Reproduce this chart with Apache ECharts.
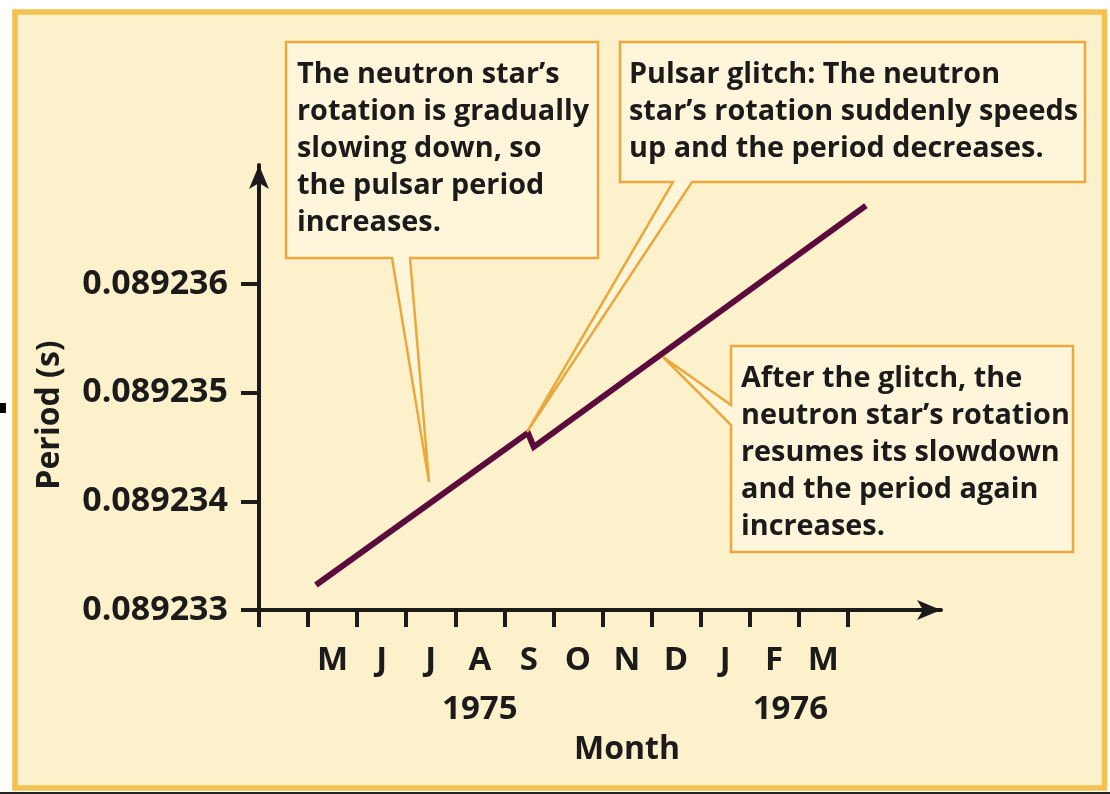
<!DOCTYPE html>
<html>
<head>
<meta charset="utf-8">
<title>Pulsar glitch</title>
<script src="https://cdn.jsdelivr.net/npm/echarts@6/dist/echarts.min.js"></script>
<style>
  html, body { margin: 0; padding: 0; background: #ffffff; }
  #chart { width: 1110px; height: 794px; }
</style>
</head>
<body>
<div id="chart"></div>
<script>
  // months counted from the start of April 1975 (tick 0)
  const monthTicks = [0, 1, 2, 3, 4, 5, 6, 7, 8, 9, 10, 11, 12]
  const monthLabels = ['M', 'J', 'J', 'A', 'S', 'O', 'N', 'D', 'J', 'F', 'M']
  const monthLabelPos = [1.5, 2.5, 3.5, 4.5, 5.5, 6.5, 7.5, 8.5, 9.5, 10.5, 11.5]
  const yearLabels = ['1975', '1976']
  const yearLabelPos = [4.5, 10.83]
  const periodTicks = [0.089233, 0.089234, 0.089235, 0.089236]

  // period of the pulsar
  const monthIndex = [1.16, 5.48, 5.60, 12.37]
  const period = [0.08923323, 0.08923463, 0.0892345, 0.08923672]

  const FONT = '"Open Sans"'
  const INK = '#1b1b1b'
  const BOX_LINE = '#e9a93c'
  const BOX_FILL = '#fef5da'

  const chart = echarts.init(document.getElementById('chart'))

  function callout(points, text, tx, ty) {
    return [
      {
        type: 'polygon',
        z: 10,
        shape: { points: points },
        style: { fill: BOX_FILL, stroke: BOX_LINE, lineWidth: 2.5, lineJoin: 'miter' }
      },
      {
        type: 'text',
        z: 11,
        x: tx,
        y: ty,
        style: {
          text: text,
          fill: INK,
          font: 'bold 28.8px ' + FONT,
          lineHeight: 37,
          textVerticalAlign: 'top'
        }
      }
    ]
  }

  const xMin = 0, xMax = 13.9
  const yMin = 0.089233, yMax = 0.089237094

  chart.setOption({
    backgroundColor: '#ffffff',
    animation: false,
    grid: {
      left: 259,
      right: 1110 - 941,
      top: 165,
      bottom: 794 - 610,
      containLabel: false,
      outerBoundsMode: 'none'
    },
    xAxis: [
      {
        type: 'value',
        min: xMin,
        max: xMax,
        splitLine: { show: false },
        axisLine: {
          onZero: false,
          symbol: ['none', 'arrow'],
          symbolSize: [15, 24],
          lineStyle: { color: INK, width: 4 }
        },
        axisTick: {
          customValues: monthTicks,
          length: 17,
          lineStyle: { color: INK, width: 4 }
        },
        axisLabel: {
          customValues: monthLabelPos,
          margin: 34,
          color: INK,
          fontFamily: FONT,
          fontWeight: 'bold',
          fontSize: 33,
          formatter: function (v) {
            const i = monthLabelPos.findIndex(p => Math.abs(p - v) < 1e-6)
            return i >= 0 ? monthLabels[i] : ''
          }
        }
      },
      {
        type: 'value',
        position: 'bottom',
        min: xMin,
        max: xMax,
        splitLine: { show: false },
        axisLine: { show: false, onZero: false },
        axisTick: { show: false },
        axisLabel: {
          customValues: yearLabelPos,
          margin: 83,
          color: INK,
          fontFamily: FONT,
          fontWeight: 'bold',
          fontSize: 33,
          formatter: function (v) {
            const i = yearLabelPos.findIndex(p => Math.abs(p - v) < 1e-6)
            return i >= 0 ? yearLabels[i] : ''
          }
        }
      },
      {
        type: 'value',
        position: 'bottom',
        min: xMin,
        max: xMax,
        splitLine: { show: false },
        axisLine: { show: false, onZero: false },
        axisTick: { show: false },
        axisLabel: {
          customValues: [7.5],
          margin: 124,
          color: INK,
          fontFamily: FONT,
          fontWeight: 'bold',
          fontSize: 32,
          formatter: function () { return 'Month' }
        }
      }
    ],
    yAxis: {
      type: 'value',
      min: yMin,
      max: yMax,
      splitLine: { show: false },
      axisLine: {
        onZero: false,
        symbol: ['none', 'arrow'],
        symbolSize: [15, 24],
        lineStyle: { color: INK, width: 4 }
      },
      axisTick: {
        customValues: periodTicks,
        length: 18,
        lineStyle: { color: INK, width: 4 }
      },
      axisLabel: {
        customValues: periodTicks,
        margin: 31,
        color: INK,
        fontFamily: FONT,
        fontWeight: 'bold',
        fontSize: 34,
        formatter: function (v) { return v.toFixed(6) }
      }
    },
    series: [
      {
        type: 'line',
        xAxisIndex: 0,
        data: monthIndex.map((m, i) => [m, period[i]]),
        showSymbol: false,
        symbol: 'none',
        z: 5,
        lineStyle: { color: '#5b0b3c', width: 6, cap: 'butt', join: 'miter' }
      }
    ],
    graphic: [
      // outer frame
      {
        type: 'rect',
        z: -10,
        silent: true,
        shape: { x: 15, y: 12, width: 1089.5, height: 776 },
        style: { fill: '#fdf1cc', stroke: '#f2c14e', lineWidth: 5.5 }
      },
      { type: 'rect', z: -9, shape: { x: 0, y: 403, width: 6, height: 10 }, style: { fill: '#000' } },
      { type: 'rect', z: -9, shape: { x: 0, y: 792, width: 1110, height: 2 }, style: { fill: '#222' } },
      {
        type: 'text',
        z: 5,
        x: 50,
        y: 415,
        rotation: Math.PI / 2,
        style: {
          text: 'Period (s)',
          fill: INK,
          font: 'bold 32px ' + FONT,
          textAlign: 'center',
          textVerticalAlign: 'middle'
        }
      },
      ...callout(
        [[286, 42], [598, 42], [598, 258], [410, 258], [429, 482], [392, 258], [286, 258]],
        'The neutron star\u2019s\nrotation is gradually\nslowing down, so\nthe pulsar period\nincreases.',
        297, 56
      ),
      ...callout(
        [[620, 42], [1085, 42], [1085, 182], [692, 182], [527, 432], [673, 182], [620, 182]],
        'Pulsar glitch: The neutron\nstar\u2019s rotation suddenly speeds\nup and the period decreases.',
        629, 56
      ),
      ...callout(
        [[731, 346], [1073, 346], [1073, 552], [731, 552], [731, 425], [663, 357], [731, 405]],
        'After the glitch, the\nneutron star\u2019s rotation\nresumes its slowdown\nand the period again\nincreases.',
        741, 360
      )
    ]
  })
</script>
</body>
</html>
